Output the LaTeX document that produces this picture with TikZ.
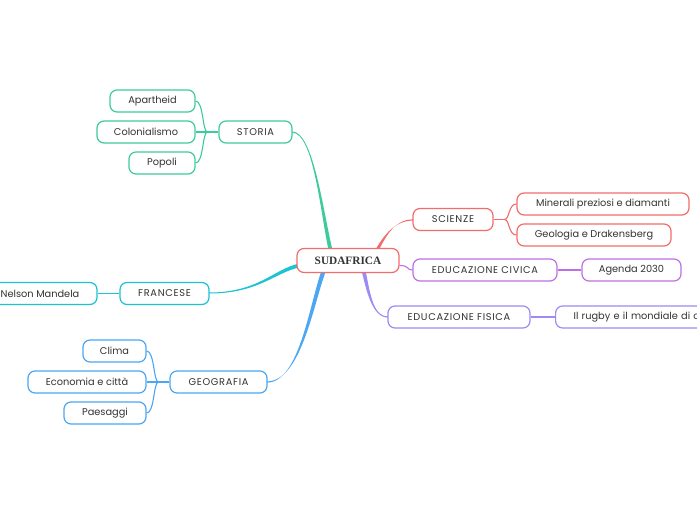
\documentclass[tikz,border=0pt]{standalone}
\usepackage{fontspec}
\setmainfont{Poppins}
\newfontfamily\capsfont[LetterSpace=7]{Poppins}
\newfontfamily\titlefont{Liberation Serif}
\definecolor{cgreen}{HTML}{3CCB9C}
\definecolor{cred}{HTML}{F26C6C}
\definecolor{cpurple}{HTML}{BF6FE6}
\definecolor{clav}{HTML}{9B8BF4}
\definecolor{ccyan}{HTML}{1CC3D1}
\definecolor{cblue}{HTML}{4BA6F4}
\definecolor{ctext}{HTML}{333333}
\tikzset{
  box/.style={draw=#1, line width=1.2pt, rounded corners=7pt, fill=white,
    minimum height=22pt, inner sep=0pt, text=ctext,
    font=\fontsize{9.8}{11}\selectfont},
  capbox/.style={box=#1, font=\capsfont\fontsize{9.8}{11}\selectfont},
  link/.style={draw=#1, line width=1.1pt},
}
\begin{document}
\begin{tikzpicture}[x=1pt,y=-1pt]
\useasboundingbox (0,0) rectangle (697,520);
\clip (0,0) rectangle (697,520);
\fill[white] (0,0) rectangle (697,520);
% main tapered connectors
\fill[cgreen] (292,131.4) .. controls (314,131.4) and (323.5,215) .. (333,252) -- (329,252) .. controls (320.5,215) and (314,132.6) .. (292,132.6) -- cycle;
\fill[cred] (413,219.4) .. controls (395,219.4) and (386.5,235) .. (377.8,252) -- (374.2,252) .. controls (383.5,235) and (395,220.6) .. (413,220.6) -- cycle;
\fill[clav] (388,316.4) .. controls (372,316.4) and (369.8,290) .. (365,268) -- (361,268) .. controls (366.2,290) and (372,317.6) .. (388,317.6) -- cycle;
\fill[ccyan] (209,292.5) .. controls (262,292.5) and (275,266) .. (305,262.5) -- (305,266.5) .. controls (277,269.5) and (262,293.5) .. (209,293.5) -- cycle;
\fill[cblue] (267,381.4) .. controls (302,381.4) and (314,300) .. (327,268) -- (322.5,268) .. controls (310,300) and (300,382.6) .. (267,382.6) -- cycle;
% nodes
\node[box=cred, minimum width=102pt, minimum height=24pt, font=\titlefont\bfseries\fontsize{11.3}{13}\selectfont] (root) at (348,260.5) {SUDAFRICA};
\node[capbox=cgreen, minimum width=73pt] (storia) at (255.5,132) {STORIA};
\node[box=cgreen, minimum width=85pt] (apart) at (152.5,101) {Apartheid};
\node[box=cgreen, minimum width=98pt] (colon) at (146,132) {Colonialismo};
\node[box=cgreen, minimum width=66pt] (popoli) at (162,163) {Popoli};
\node[capbox=cred, minimum width=80pt] (scienze) at (453,219.5) {SCIENZE};
\node[box=cred, minimum width=172pt] (miner) at (603,204) {Minerali preziosi e diamanti};
\node[box=cred, minimum width=154pt] (geol) at (594,235) {Geologia e Drakensberg};
\node[capbox=cpurple, minimum width=144pt] (civica) at (485,270) {EDUCAZIONE CIVICA};
\node[box=cpurple, minimum width=99pt] (agenda) at (631.5,270) {Agenda 2030};
\node[capbox=clav, minimum width=142pt] (fisica) at (459,317) {EDUCAZIONE FISICA};
\node[box=clav, minimum width=190pt, anchor=west, align=left, text width=172pt, inner xsep=18pt] (rugby) at (555,317) {Il rugby e il mondiale di c};
\node[capbox=ccyan, minimum width=89pt] (francese) at (164.5,293.5) {FRANCESE};
\node[box=ccyan, minimum width=114pt] (nelson) at (40,293.5) {Nelson Mandela};
\node[capbox=cblue, minimum width=97pt] (geo) at (218.5,382) {GEOGRAFIA};
\node[box=cblue, minimum width=63pt] (clima) at (114.5,351) {Clima};
\node[box=cblue, minimum width=118pt] (econ) at (87,382) {Economia e città};
\node[box=cblue, minimum width=82pt] (paes) at (105,413) {Paesaggi};
% secondary connectors
\draw[link=cpurple] (root.east) ++(0,5) .. controls +(10,0) and +(-6,0) .. (civica.west);
\draw[link=cgreen] (storia.west) -- ++(-11,0) coordinate (sj);
\draw[link=cgreen] (sj) .. controls +(-5,0) and +(8,0) .. (apart.east);
\draw[link=cgreen] (sj) -- (colon.east);
\draw[link=cgreen] (sj) .. controls +(-5,0) and +(8,0) .. (popoli.east);
\draw[link=cred] (scienze.east) -- ++(11,0) coordinate (rj);
\draw[link=cred] (rj) .. controls +(5,0) and +(-8,0) .. (miner.west);
\draw[link=cred] (rj) .. controls +(5,0) and +(-8,0) .. (geol.west);
\draw[link=cpurple] (civica.east) -- (agenda.west);
\draw[link=clav] (fisica.east) -- (rugby.west);
\draw[link=ccyan] (francese.west) -- (nelson.east);
\draw[link=cblue] (geo.west) -- ++(-11,0) coordinate (gj);
\draw[link=cblue] (gj) .. controls +(-5,0) and +(8,0) .. (clima.east);
\draw[link=cblue] (gj) -- (econ.east);
\draw[link=cblue] (gj) .. controls +(-5,0) and +(8,0) .. (paes.east);
\end{tikzpicture}
\end{document}
